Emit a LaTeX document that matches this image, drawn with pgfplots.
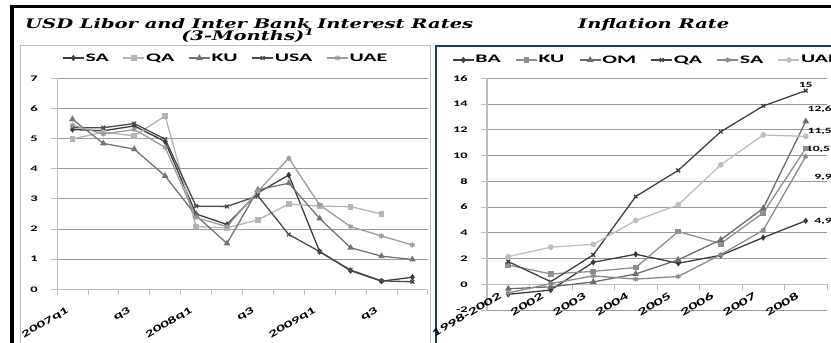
\documentclass[border=0pt]{standalone}
\usepackage{pgfplots}
\pgfplotsset{compat=1.18}
\usepackage{fontspec}
\setmainfont{Carlito}
\newfontfamily\cf[FakeStretch=1.7]{Carlito}
\newfontfamily\lf[FakeStretch=1.9]{Carlito}
\newfontfamily\tf{DejaVu Serif}
\definecolor{axgray}{HTML}{BDBDBD}
\definecolor{gridgray}{HTML}{9A9A9A}
\definecolor{navy}{HTML}{1F3A6E}
\definecolor{cSA}{HTML}{3C3C3C}
\definecolor{cQA}{HTML}{B4B4B4}
\definecolor{cKU}{HTML}{747474}
\definecolor{cUSA}{HTML}{4A4A4A}
\definecolor{cUAE}{HTML}{9C9C9C}
\definecolor{rBA}{HTML}{3C3C3C}
\definecolor{rKU}{HTML}{8E8E8E}
\definecolor{rOM}{HTML}{6C6C6C}
\definecolor{rQA}{HTML}{404040}
\definecolor{rSA}{HTML}{8A8A8A}
\definecolor{rUAE}{HTML}{BEBEBE}
\newcommand\tickfont{\cf\bfseries\fontsize{8.5}{9}\selectfont}
\newcommand\xtfont{\cf\bfseries\fontsize{10}{11}\selectfont}
\newcommand\xtfontR{\cf\bfseries\fontsize{10.5}{11}\selectfont}
\newcommand\legfont{\lf\bfseries\fontsize{11.5}{12}\selectfont}
\newcommand\dlfont{\cf\bfseries\fontsize{8}{9}\selectfont}
\newcommand\ttl{\tf\bfseries\itshape}
\newlength\Lw \newlength\Lh
\pgfplotsset{
  chart/.style={
    scale only axis, anchor=south west, clip=false,
    axis y line*=left,
    axis line style={draw=axgray, line width=1pt},
    tick align=outside, major tick length=6pt,
    tick style={draw=axgray, line width=0.8pt},
    ymajorgrids, grid style={draw=gridgray, line width=0.8pt},
    yticklabel style={font=\tickfont, anchor=east, inner sep=1pt, xshift=-12pt},
    xticklabel style={inner sep=0pt},
    extra x tick style={major tick length=0pt, grid=none},
    legend columns=-1,
    legend image code/.code={\draw[mark repeat=2,mark phase=2,##1] plot coordinates {(0pt,0pt)(10.5pt,0pt)(21pt,0pt)};},
    every axis plot/.append style={line width=1.3pt, mark size=2.2pt, mark options={solid}},
  }
}
\begin{document}
\settowidth\Lw{\ttl USD Libor and Inter Bank Interest Rates}%
\settoheight\Lh{\ttl USD Libor and Inter Bank Interest Rates}%
\pgfmathsetmacro\fx{448/\Lw}%
\pgfmathsetmacro\fy{10/\Lh}%
\begin{tikzpicture}[x=1pt,y=1pt]
% frame lines
\fill[black] (10,-4.5) rectangle (831,-8);
\fill[black] (10,-4.5) rectangle (14,-343);
\draw[axgray, line width=1pt] (20,-343) -- (20,-45.5) -- (430,-45.5) -- (430,-343);
\draw[navy, line width=2pt] (436,-343) -- (436,-45.5) -- (840,-45.5);
% titles
\node[anchor=base west, inner sep=0pt] at (25,-28) {\scalebox{\fx}[\fy]{\ttl USD Libor and Inter Bank Interest Rates}};
\node[anchor=base, inner sep=0pt] at (248,-40) {\scalebox{\fx}[\fy]{\ttl (3-Months)\textsuperscript{1}}};
\node[anchor=base west, inner sep=0pt] at (578,-28) {\scalebox{\fx}[\fy]{\ttl Inflation Rate}};

% ---------------- left chart ----------------
\begin{axis}[chart,
  at={(57pt,-289.3pt)}, width=370.8pt, height=211pt,
  xmin=-0.5, xmax=11.5, ymin=0, ymax=7,
  axis x line*=bottom,
  xtick={-0.5,0.5,1.5,2.5,3.5,4.5,5.5,6.5,7.5,8.5,9.5,10.5,11.5}, xticklabels={},
  extra x ticks={0,2,4,6,8,10},
  extra x tick labels={2007q1,q3,2008q1,q3,2009q1,q3},
  xticklabel style={font=\xtfont, xshift=-4.4pt, yshift=-20.4pt, rotate=30, anchor=east},
  ytick={0,1,2,3,4,5,6,7}, yticklabels={0,1,2,3,4,5,6,7},
  legend style={at={(axis description cs:0.0135,1.096)}, anchor=west, draw=none, fill=none,
    font=\legfont, inner sep=0pt, nodes={inner sep=1pt},
    /tikz/every even column/.append style={column sep=13pt}},
]
\addplot[color=cSA, mark=diamond*] coordinates {(0,5.3)(1,5.26)(2,5.42)(3,4.9)(4,2.5)(5,2.15)(6,3.2)(7,3.79)(8,1.25)(9,0.62)(10,0.27)(11,0.4)};
\addlegendentry{SA}
\addplot[color=cQA, mark=square*] coordinates {(0,4.99)(1,5.21)(2,5.09)(3,5.75)(4,2.08)(5,2.04)(6,2.3)(7,2.83)(8,2.76)(9,2.74)(10,2.5)};
\addlegendentry{QA}
\addplot[color=cKU, mark=triangle*, mark size=2.6pt] coordinates {(0,5.64)(1,4.84)(2,4.65)(3,3.76)(4,2.45)(5,1.52)(6,3.3)(7,3.52)(8,2.35)(9,1.38)(10,1.1)(11,0.99)};
\addlegendentry{KU}
\addplot[color=cUSA, mark=x, mark size=2.6pt] coordinates {(0,5.36)(1,5.36)(2,5.5)(3,4.98)(4,2.76)(5,2.75)(6,3.1)(7,1.82)(8,1.25)(9,0.64)(10,0.28)(11,0.25)};
\addlegendentry{USA}
\addplot[color=cUAE, mark=asterisk, mark size=2.6pt] coordinates {(0,5.45)(1,5.15)(2,5.3)(3,4.71)(4,2.38)(5,2.08)(6,3.25)(7,4.35)(8,2.8)(9,2.08)(10,1.77)(11,1.47)};
\addlegendentry{UAE}
\end{axis}

% ---------------- right chart ----------------
\begin{axis}[chart,
  at={(487pt,-310pt)}, width=340pt, height=231.7pt,
  xmin=-0.5, xmax=7.5, ymin=-2, ymax=16,
  axis x line*=middle,
  y axis line style={line width=1.6pt},
  xtick={-0.5,0.5,1.5,2.5,3.5,4.5,5.5,6.5,7.5}, xticklabels={},
  extra x ticks={0,1,2,3,4,5,6,7},
  extra x tick labels={1998-2002,2002,2003,2004,2005,2006,2007,2008},
  xticklabel style={font=\xtfontR, xshift=-8pt, yshift=-10.8pt, rotate=30, anchor=east},
  ytick={-2,0,2,4,6,8,10,12,14,16}, yticklabels={-2,0,2,4,6,8,10,12,14,16},
  legend style={at={(axis description cs:-0.103,1.079)}, anchor=west, draw=none, fill=none,
    font=\legfont, inner sep=0pt, nodes={inner sep=1pt},
    /tikz/every even column/.append style={column sep=13.5pt}},
]
\addplot[color=rBA, mark=diamond*] coordinates {(0,-0.78)(1,-0.45)(2,1.71)(3,2.33)(4,1.63)(5,2.25)(6,3.63)(7,4.93)};
\addlegendentry{BA}
\addplot[color=rKU, mark=square*] coordinates {(0,1.5)(1,0.8)(2,1.0)(3,1.3)(4,4.1)(5,3.15)(6,5.55)(7,10.55)};
\addlegendentry{KU}
\addplot[color=rOM, mark=triangle*, mark size=2.6pt] coordinates {(0,-0.35)(1,-0.2)(2,0.18)(3,0.8)(4,1.9)(5,3.45)(6,5.9)(7,12.65)};
\addlegendentry{OM}
\addplot[color=rQA, mark=x, mark size=2.6pt] coordinates {(0,1.76)(1,0.2)(2,2.28)(3,6.82)(4,8.85)(5,11.85)(6,13.85)(7,15.04)};
\addlegendentry{QA}
\addplot[color=rSA, mark=asterisk, mark size=2.6pt] coordinates {(0,-0.68)(1,0.05)(2,0.65)(3,0.4)(4,0.6)(5,2.3)(6,4.2)(7,9.93)};
\addlegendentry{SA}
\addplot[color=rUAE, mark=*, mark size=2.2pt] coordinates {(0,2.15)(1,2.88)(2,3.1)(3,4.95)(4,6.17)(5,9.28)(6,11.6)(7,11.49)};
\addlegendentry{UAE}
\node[font=\dlfont, anchor=center, inner sep=0pt] at (axis cs:7,15.48) {15};
\node[font=\dlfont, anchor=west, inner sep=0pt] at (axis cs:7.04,13.62) {12,6};
\node[font=\dlfont, anchor=west, inner sep=0pt] at (axis cs:7.04,11.91) {11,5};
\node[font=\dlfont, anchor=west, inner sep=0pt] at (axis cs:7.0,10.47) {10,5};
\node[font=\dlfont, anchor=west, inner sep=0pt] at (axis cs:7.2,8.33) {9,9};
\node[font=\dlfont, anchor=west, inner sep=0pt] at (axis cs:7.2,4.92) {4,9};
\end{axis}
\pgfresetboundingbox
\path[use as bounding box] (0,0) rectangle (831,-343);
\end{tikzpicture}
\end{document}
